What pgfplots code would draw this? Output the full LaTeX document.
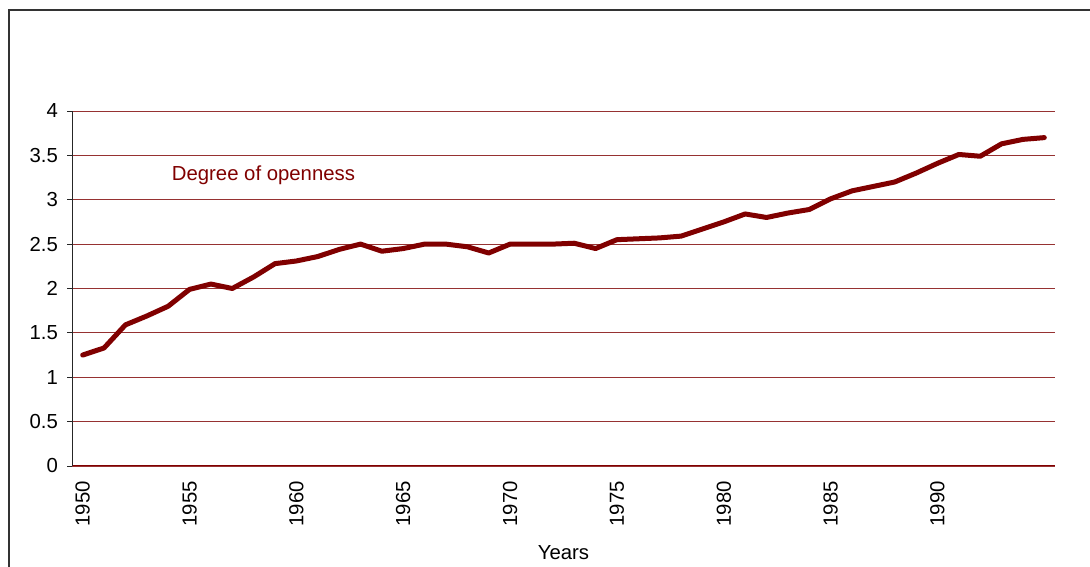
\documentclass[border=0pt]{standalone}
\usepackage{pgfplots}
\pgfplotsset{compat=1.18}
\usepackage{fontspec}
\setmainfont{Liberation Sans}
\definecolor{lineRed}{RGB}{128,0,0}
\definecolor{gridRed}{RGB}{150,50,50}
\begin{document}
\begin{tikzpicture}[x=1bp,y=1bp]
\useasboundingbox (0,0) rectangle (1090,567);
\draw[line width=1.8bp, black!80] (9.3,-5) -- (9.3,557) -- (1095,557);
\begin{axis}[
  at={(72bp,101bp)}, anchor=south west,
  scale only axis, width=983bp, height=355bp,
  xmin=1949.5, xmax=1995.5, ymin=0, ymax=4,
  xtick={1950,1955,...,1990},
  ytick={0,0.5,...,4},
  font=\fontsize{20.4}{24}\selectfont,
  /pgf/number format/assume math mode=true,
  xticklabel style={/pgf/number format/1000 sep={}, rotate=90, anchor=east, inner sep=0pt, xshift=-10bp},
  yticklabel style={anchor=east, inner sep=0pt, xshift=-9bp},
  axis x line*=bottom, axis y line*=left,
  x axis line style={draw=lineRed, line width=1bp, -},
  y axis line style={draw=black!85, line width=0.9bp, -},
  major x tick style={draw=none},
  major y tick style={draw=black!85, line width=0.9bp},
  tick align=outside, major tick length=5bp,
  ymajorgrids, grid style={draw=gridRed, line width=0.9bp},
  xlabel={Years},
  xlabel style={at={(axis description cs:0.5,-0.245)}, anchor=center, inner sep=0pt},
  clip=false,
]
\addplot[color=lineRed, line width=5bp, line join=round, line cap=round] coordinates {
(1950,1.25) (1951,1.33) (1952,1.59) (1953,1.69) (1954,1.80)
(1955,1.99) (1956,2.05) (1957,2.00) (1958,2.13) (1959,2.28)
(1960,2.31) (1961,2.36) (1962,2.44) (1963,2.50) (1964,2.42)
(1965,2.45) (1966,2.50) (1967,2.50) (1968,2.47) (1969,2.40)
(1970,2.50) (1971,2.50) (1972,2.50) (1973,2.51) (1974,2.45)
(1975,2.55) (1976,2.56) (1977,2.57) (1978,2.59) (1979,2.67)
(1980,2.75) (1981,2.84) (1982,2.80) (1983,2.85) (1984,2.89)
(1985,3.01) (1986,3.10) (1987,3.15) (1988,3.20) (1989,3.30)
(1990,3.41) (1991,3.51) (1992,3.49) (1993,3.63) (1994,3.68)
(1995,3.70)
};
\node[text=lineRed, anchor=center, inner sep=0pt] at (axis cs:1958.46,3.28) {Degree of openness};
\end{axis}
\end{tikzpicture}
\end{document}
